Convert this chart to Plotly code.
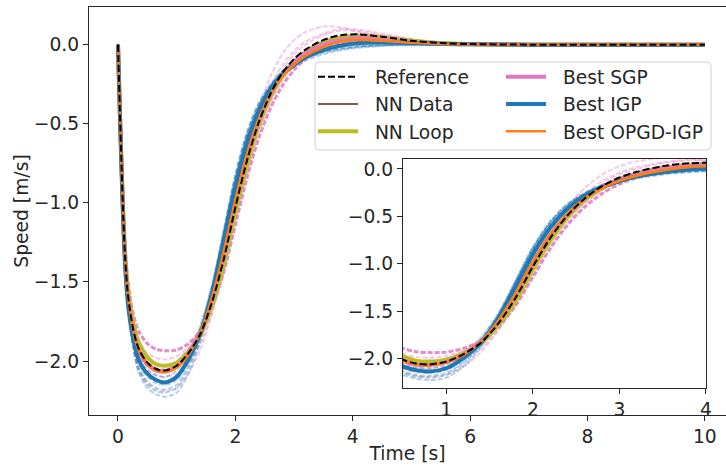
import plotly.graph_objects as go

# time samples [s]
T = [0, 0.03, 0.06, 0.09, 0.12, 0.16, 0.2, 0.26, 0.35,
     0.5, 0.65, 0.8, 1.0, 1.2, 1.4, 1.6, 1.8, 2.0,
     2.2, 2.4, 2.6, 2.8, 3.0, 3.2, 3.5, 3.8, 4.1,
     4.5, 5.0, 5.5, 6.0, 7.0, 8.0, 10.0]

reference = [0, -0.39, -0.76, -1.09, -1.34, -1.55, -1.67, -1.80, -1.92,
             -2.01, -2.05, -2.06, -2.03, -1.95, -1.83, -1.63, -1.36, -1.03,
             -0.73, -0.49, -0.31, -0.18, -0.09, -0.03, 0.03, 0.06, 0.065,
             0.05, 0.025, 0.01, 0.004, 0, 0, 0]
nn_data = [0, -0.39, -0.76, -1.09, -1.34, -1.55, -1.67, -1.80, -1.92,
           -2.01, -2.05, -2.06, -2.03, -1.95, -1.82, -1.62, -1.34, -1.01,
           -0.71, -0.48, -0.31, -0.19, -0.10, -0.04, 0.02, 0.05, 0.055,
           0.045, 0.022, 0.009, 0.003, 0, 0, 0]
nn_loop = [0, -0.38, -0.74, -1.06, -1.31, -1.51, -1.63, -1.76, -1.88,
           -1.975, -2.02, -2.03, -2.01, -1.94, -1.84, -1.65, -1.39, -1.06,
           -0.76, -0.51, -0.33, -0.20, -0.11, -0.05, 0.01, 0.045, 0.055,
           0.045, 0.025, 0.01, 0.004, 0, 0, 0]
best_sgp = [0, -0.40, -0.77, -1.10, -1.35, -1.56, -1.68, -1.81, -1.93,
            -2.02, -2.06, -2.065, -2.035, -1.955, -1.825, -1.61, -1.32, -0.99,
            -0.70, -0.48, -0.31, -0.19, -0.11, -0.055, 0.0, 0.03, 0.04,
            0.03, 0.015, 0.006, 0.002, 0, 0, 0]
best_igp = [0, -0.41, -0.79, -1.13, -1.39, -1.60, -1.73, -1.86, -1.99,
            -2.08, -2.12, -2.135, -2.10, -1.99, -1.83, -1.57, -1.24, -0.90,
            -0.62, -0.42, -0.28, -0.19, -0.13, -0.08, -0.035, -0.005, 0.01,
            0.015, 0.01, 0.005, 0.002, 0, 0, 0]
best_opgd = [0, -0.40, -0.77, -1.10, -1.35, -1.56, -1.68, -1.81, -1.93,
             -2.02, -2.06, -2.07, -2.04, -1.96, -1.82, -1.60, -1.31, -0.98,
             -0.69, -0.47, -0.31, -0.20, -0.125, -0.07, -0.015, 0.02, 0.03,
             0.025, 0.012, 0.005, 0.002, 0, 0, 0]

# individual SGP runs (dashed pink)
sgp_run1 = [0, -0.37, -0.71, -1.02, -1.26, -1.46, -1.58, -1.70, -1.81,
            -1.89, -1.925, -1.935, -1.93, -1.89, -1.81, -1.66, -1.44, -1.14,
            -0.84, -0.59, -0.40, -0.26, -0.16, -0.09, -0.03, 0.01, 0.035,
            0.04, 0.025, 0.012, 0.005, 0, 0, 0]
sgp_run2 = [0, -0.39, -0.75, -1.07, -1.31, -1.52, -1.64, -1.77, -1.89,
            -1.98, -2.02, -2.03, -2.0, -1.92, -1.80, -1.60, -1.32, -0.98,
            -0.66, -0.40, -0.20, -0.06, 0.03, 0.08, 0.115, 0.11, 0.08,
            0.045, 0.018, 0.006, 0.002, 0, 0, 0]
sgp_run3 = [0, -0.40, -0.78, -1.12, -1.39, -1.61, -1.75, -1.90, -2.04,
            -2.14, -2.18, -2.19, -2.17, -2.08, -1.93, -1.70, -1.40, -1.06,
            -0.76, -0.52, -0.34, -0.21, -0.12, -0.06, 0.0, 0.04, 0.06,
            0.05, 0.03, 0.012, 0.005, 0, 0, 0]
sgp_run4 = [0, -0.38, -0.74, -1.05, -1.29, -1.49, -1.61, -1.74, -1.86,
            -1.95, -1.98, -1.99, -1.97, -1.91, -1.81, -1.63, -1.37, -1.06,
            -0.76, -0.50, -0.30, -0.16, -0.06, 0.0, 0.06, 0.09, 0.085,
            0.06, 0.03, 0.012, 0.005, 0, 0, 0]
sgp_run5 = [0, -0.39, -0.76, -1.09, -1.34, -1.55, -1.69, -1.83, -1.96,
            -2.05, -2.09, -2.10, -2.08, -2.01, -1.89, -1.70, -1.44, -1.12,
            -0.82, -0.56, -0.37, -0.23, -0.13, -0.06, 0.01, 0.05, 0.07,
            0.06, 0.035, 0.015, 0.005, 0, 0, 0]
sgp_run6 = [0, -0.39, -0.76, -1.09, -1.33, -1.54, -1.66, -1.79, -1.91,
            -2.0, -2.04, -2.05, -2.02, -1.94, -1.81, -1.59, -1.29, -0.95,
            -0.66, -0.43, -0.26, -0.13, -0.04, 0.02, 0.07, 0.1, 0.095,
            0.07, 0.035, 0.014, 0.005, 0, 0, 0]

# individual IGP runs (dashed blue)
igp_run1 = [0, -0.42, -0.81, -1.15, -1.42, -1.64, -1.77, -1.92, -2.07,
            -2.17, -2.21, -2.225, -2.2, -2.08, -1.88, -1.58, -1.20, -0.84,
            -0.56, -0.37, -0.25, -0.17, -0.12, -0.08, -0.045, -0.025, -0.012,
            -0.004, 0, 0, 0, 0, 0, 0]
igp_run2 = [0, -0.42, -0.80, -1.14, -1.41, -1.63, -1.76, -1.90, -2.04,
            -2.13, -2.17, -2.18, -2.15, -2.03, -1.84, -1.55, -1.18, -0.82,
            -0.55, -0.37, -0.26, -0.18, -0.13, -0.09, -0.05, -0.03, -0.015,
            -0.005, 0, 0, 0, 0, 0, 0]
igp_run3 = [0, -0.41, -0.79, -1.12, -1.38, -1.59, -1.72, -1.85, -1.98,
            -2.06, -2.09, -2.10, -2.06, -1.96, -1.79, -1.53, -1.19, -0.85,
            -0.58, -0.39, -0.26, -0.17, -0.11, -0.07, -0.03, -0.01, 0.0,
            0.003, 0.002, 0, 0, 0, 0, 0]
igp_run4 = [0, -0.41, -0.80, -1.13, -1.40, -1.62, -1.74, -1.88, -2.01,
            -2.10, -2.14, -2.15, -2.12, -2.01, -1.83, -1.56, -1.21, -0.86,
            -0.58, -0.39, -0.27, -0.19, -0.14, -0.10, -0.06, -0.035, -0.02,
            -0.008, -0.002, 0, 0, 0, 0, 0]
igp_run5 = [0, -0.40, -0.78, -1.11, -1.37, -1.57, -1.70, -1.83, -1.95,
            -2.03, -2.06, -2.06, -2.03, -1.94, -1.78, -1.52, -1.18, -0.83,
            -0.56, -0.38, -0.26, -0.17, -0.115, -0.075, -0.035, -0.012, 0.0,
            0.004, 0.003, 0.001, 0, 0, 0, 0]
igp_run6 = [0, -0.42, -0.81, -1.15, -1.42, -1.64, -1.77, -1.91, -2.06,
            -2.15, -2.19, -2.20, -2.17, -2.05, -1.86, -1.57, -1.20, -0.85,
            -0.58, -0.40, -0.28, -0.19, -0.13, -0.085, -0.045, -0.022, -0.01,
            -0.003, 0, 0, 0, 0, 0, 0]

main_xticks = [0, 2, 4, 6, 8, 10]
main_yticks = [0.0, -0.5, -1.0, -1.5, -2.0]
inset_xticks = [1, 2, 3, 4]
inset_yticks = [0.0, -0.5, -1.0, -1.5, -2.0]
y_ticktext = ["0.0", "\u22120.5", "\u22121.0", "\u22121.5", "\u22122.0"]

FONT = "DejaVu Sans"
FS = 18.7
BLUE = "#1f77b4"
ORANGE = "#ff7f0e"
PINK = "#e377c2"
BROWN = "#8c564b"
OLIVE = "#bcbd22"
LPINK = "rgba(227,119,194,0.40)"
LBLUE = "rgba(31,119,180,0.34)"

runs = [
    (sgp_run2, LPINK, 2.0), (sgp_run3, LPINK, 2.0), (sgp_run4, LPINK, 2.0),
    (sgp_run5, LPINK, 2.0), (sgp_run6, LPINK, 2.0),
    (igp_run1, LBLUE, 2.0), (igp_run2, LBLUE, 2.0), (igp_run3, LBLUE, 2.0),
    (igp_run4, LBLUE, 2.0), (igp_run5, LBLUE, 2.0), (igp_run6, LBLUE, 2.0),
    (sgp_run1, "rgba(227,119,194,0.85)", 3.0),
]

NB = "\u00a0\u00a0"
mains = [
    # name, values, color, width, dash, legend, rank
    ("NN Data", nn_data, BROWN, 2.0, "solid", "legend", 2),
    ("NN Loop", nn_loop, OLIVE, 4.0, "solid", "legend", 3),
    ("Best SGP", best_sgp, PINK, 4.0, "solid", "legend2", 1),
    ("Best IGP", best_igp, BLUE, 4.0, "solid", "legend2", 2),
    ("Best OPGD-IGP", best_opgd, ORANGE, 2.6, "solid", "legend2", 3),
    ("Reference", reference, "black", 2.0, "7px,3px", "legend", 1),
]

fig = go.Figure()
for axes in [("x", "y"), ("x2", "y2")]:
    for vals, col, w in runs:
        fig.add_trace(go.Scatter(x=T, y=vals, mode="lines", xaxis=axes[0], yaxis=axes[1],
                                 line=dict(color=col, width=w, dash="5px,2px", shape="spline", smoothing=0.8),
                                 showlegend=False, hoverinfo="skip"))
    for name, vals, col, w, dash, leg, rank in mains:
        fig.add_trace(go.Scatter(x=T, y=vals, mode="lines", name=NB + name, xaxis=axes[0], yaxis=axes[1],
                                 line=dict(color=col, width=w, dash=dash, shape="spline", smoothing=0.8),
                                 showlegend=(axes[0] == "x"), legend=leg, legendrank=rank))

axis_common = dict(showgrid=False, zeroline=False, showline=True, linecolor="#262626", linewidth=1.1,
                   ticks="outside", ticklen=5, tickwidth=1.1, tickcolor="#262626", automargin=False,
                   tickfont=dict(family=FONT, size=FS, color="#262626"))

# legend frame (pixel -> paper)
def px(x):
    return (x - 89) / 637.0

def py(y):
    return (415 - y) / 408.0

x0, x1, yt, yb = px(315), px(711), py(62), py(150)
dx, dy = 4 / 637.0, 4 / 408.0
frame = (f"M{x0+dx},{yt} L{x1-dx},{yt} Q{x1},{yt} {x1},{yt-dy} L{x1},{yb+dy} Q{x1},{yb} {x1-dx},{yb} "
         f"L{x0+dx},{yb} Q{x0},{yb} {x0},{yb+dy} L{x0},{yt-dy} Q{x0},{yt} {x0+dx},{yt} Z")

leg_common = dict(orientation="v", yanchor="top", xanchor="left", itemwidth=40,
                  bgcolor="rgba(0,0,0,0)", borderwidth=0,
                  font=dict(family=FONT, size=FS, color="#262626"))

fig.update_layout(
    width=726, height=466,
    margin=dict(l=89, r=0, t=7, b=51),
    paper_bgcolor="white", plot_bgcolor="white",
    font=dict(family=FONT, size=FS, color="#262626"),
    xaxis=dict(range=[-0.494, 10.36], tickvals=main_xticks, ticktext=[str(v) for v in main_xticks],
               mirror=True, domain=[0, 1],
               title=dict(text="Time [s]", font=dict(family=FONT, size=FS), standoff=0), **axis_common),
    yaxis=dict(range=[-2.341, 0.238], tickvals=main_yticks, ticktext=y_ticktext,
               domain=[0, 1], mirror=False,
               title=dict(text="Speed [m/s]", font=dict(family=FONT, size=FS), standoff=0), **axis_common),
    xaxis2=dict(range=[0.5, 4.0], tickvals=inset_xticks, ticktext=[str(v) for v in inset_xticks],
                domain=[0.4929, 0.9686], anchor="y2", mirror=True, **axis_common),
    yaxis2=dict(range=[-2.305, 0.102], tickvals=inset_yticks, ticktext=y_ticktext,
                domain=[0.0669, 0.6267], anchor="x2", mirror=True, **axis_common),
    legend=dict(x=px(313), y=py(58), **leg_common),
    legend2=dict(x=px(501), y=py(58), **leg_common),
    shapes=[dict(type="path", path=frame, xref="paper", yref="paper", layer="above",
                 fillcolor="rgba(255,255,255,0.8)", line=dict(color="#d0d0d0", width=1))],
    showlegend=True,
)

fig.write_html("out.html", config={"displayModeBar": False},
               post_script="document.body.style.margin='0';document.body.style.overflow='hidden';")
